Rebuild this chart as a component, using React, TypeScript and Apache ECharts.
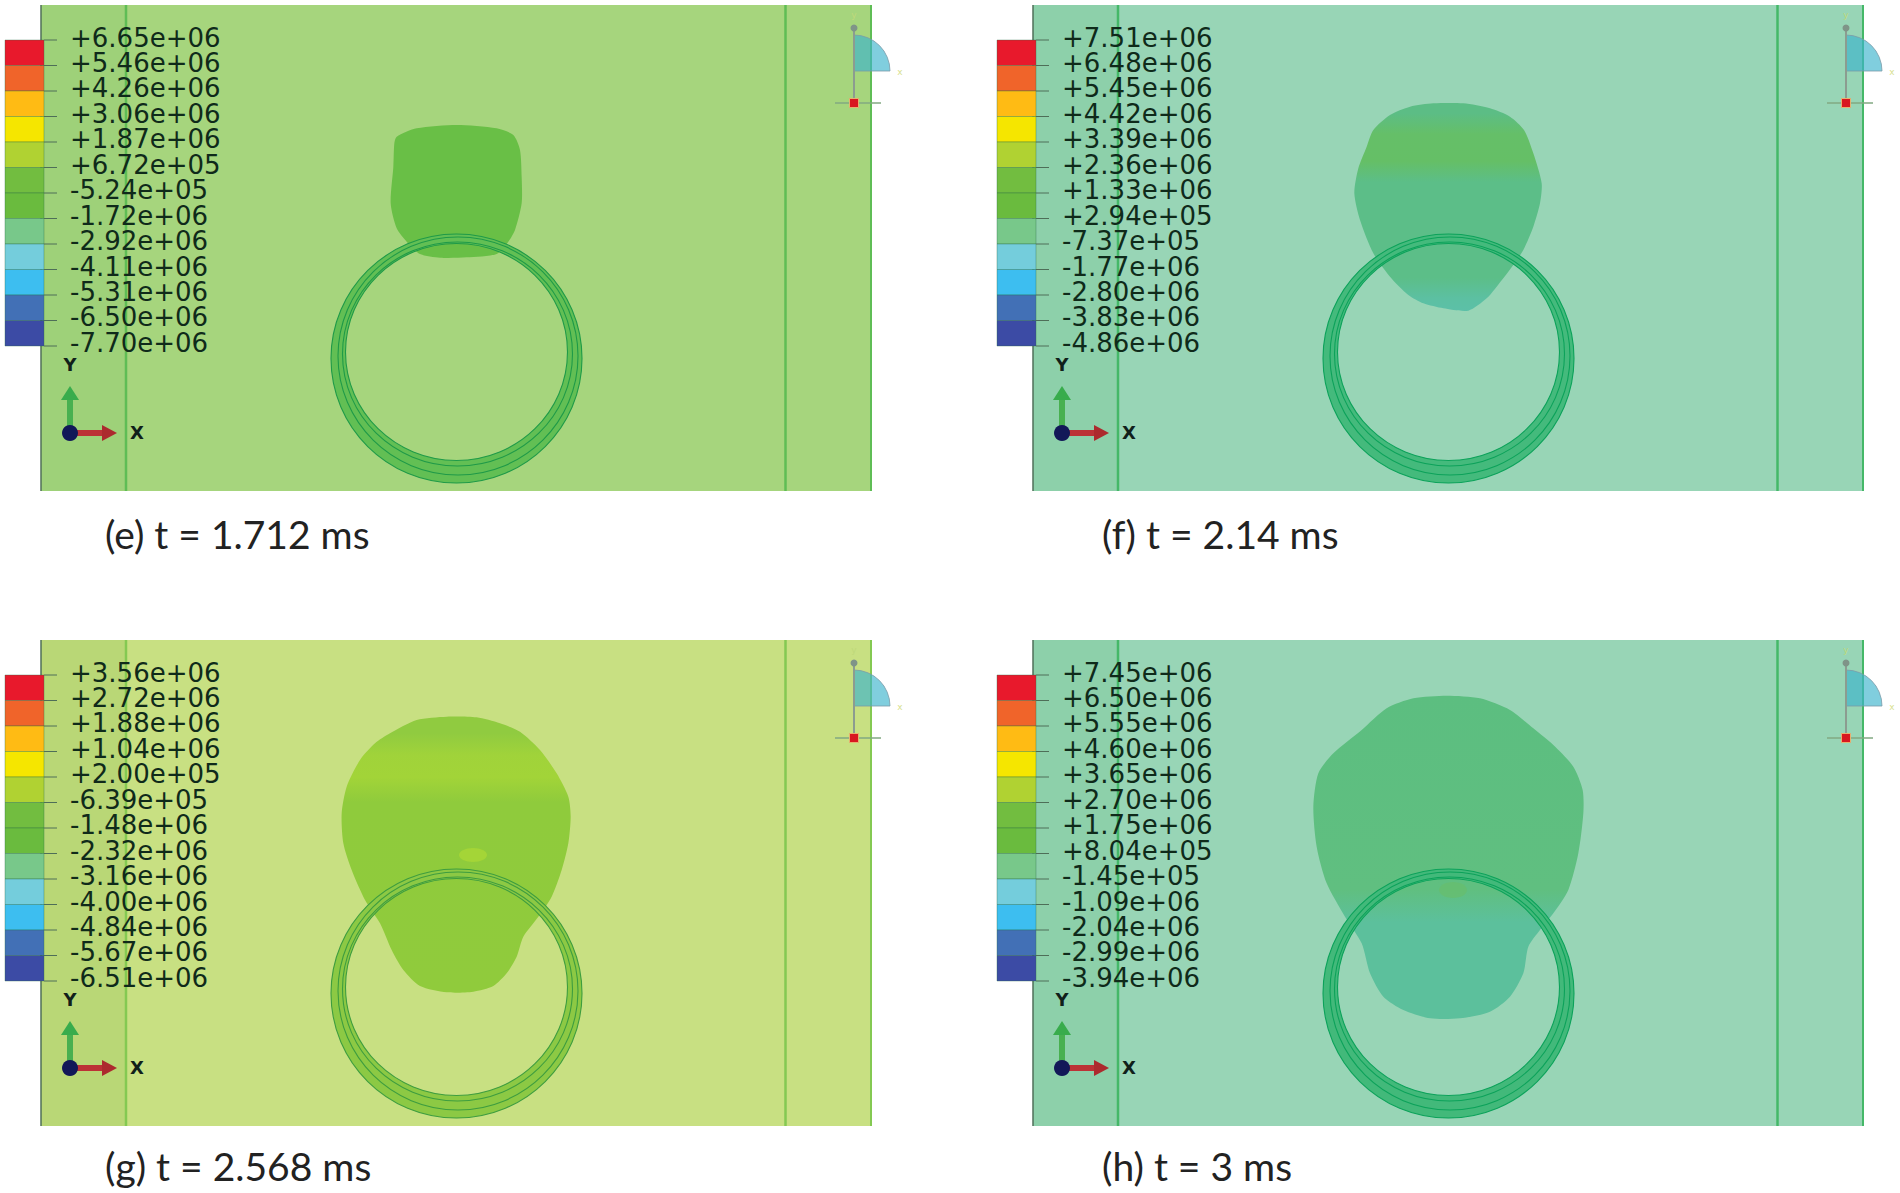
import React, { useEffect, useRef } from "react";
import * as echarts from "echarts";

// Contour legend
const legendColors = ["#e8192c", "#f0642a", "#ffbb14", "#f5e600", "#b0d232", "#72bd40", "#6abb3e", "#78c88a", "#74cddc", "#3dbef0", "#4270b6", "#3c4ba5"];
const labelsE = ["+6.65e+06", "+5.46e+06", "+4.26e+06", "+3.06e+06", "+1.87e+06", "+6.72e+05", "-5.24e+05", "-1.72e+06", "-2.92e+06", "-4.11e+06", "-5.31e+06", "-6.50e+06", "-7.70e+06"];
const labelsF = ["+7.51e+06", "+6.48e+06", "+5.45e+06", "+4.42e+06", "+3.39e+06", "+2.36e+06", "+1.33e+06", "+2.94e+05", "-7.37e+05", "-1.77e+06", "-2.80e+06", "-3.83e+06", "-4.86e+06"];
const labelsG = ["+3.56e+06", "+2.72e+06", "+1.88e+06", "+1.04e+06", "+2.00e+05", "-6.39e+05", "-1.48e+06", "-2.32e+06", "-3.16e+06", "-4.00e+06", "-4.84e+06", "-5.67e+06", "-6.51e+06"];
const labelsH = ["+7.45e+06", "+6.50e+06", "+5.55e+06", "+4.60e+06", "+3.65e+06", "+2.70e+06", "+1.75e+06", "+8.04e+05", "-1.45e+05", "-1.09e+06", "-2.04e+06", "-2.99e+06", "-3.94e+06"];

// Captions
const captions = ["(e) t = 1.712 ms", "(f) t = 2.14 ms", "(g) t = 2.568 ms", "(h) t = 3 ms"];

// Pressure-wave outlines, in panel units
const crop = (ox: number, oy: number, px: number, py: number, pts: number[][]) => pts.map(([x, y]) => [ox + x / 3 - px, oy + y / 3 - py]);
const outlineE = crop(300, 100, 41, 5, [[290, 110], [350, 85], [470, 75], [590, 85], [640, 105], [660, 150], [665, 230], [665, 310], [645, 390], [625, 425], [590, 462], [500, 472], [420, 473], [360, 462], [320, 425], [290, 385], [272, 310], [280, 200], [283, 130]]);
const outlineF = crop(1320, 80, 1033, 5, [[160, 150], [210, 105], [270, 80], [340, 70], [430, 70], [510, 85], [570, 110], [612, 150], [640, 220], [665, 310], [660, 370], [640, 440], [610, 510], [580, 555], [530, 620], [500, 655], [445, 692], [370, 685], [310, 670], [265, 645], [210, 590], [160, 520], [120, 420], [103, 340], [115, 265], [140, 200]]);
const outlineG = crop(320, 700, 41, 640, [[210, 100], [290, 60], [380, 50], [470, 52], [540, 70], [600, 95], [660, 150], [710, 220], [745, 290], [752, 350], [745, 430], [725, 510], [695, 590], [655, 650], [610, 710], [590, 770], [560, 820], [520, 858], [460, 875], [380, 877], [300, 858], [250, 810], [215, 750], [180, 670], [135, 600], [95, 510], [70, 430], [65, 340], [80, 260], [120, 180], [165, 130]]);
const outlineH = crop(1290, 680, 1033, 640, [[215, 150], [290, 85], [370, 55], [470, 47], [570, 55], [660, 90], [730, 145], [790, 195], [850, 260], [878, 330], [880, 400], [865, 520], [835, 630], [790, 700], [750, 750], [715, 800], [700, 880], [660, 950], [600, 995], [510, 1015], [420, 1015], [340, 990], [280, 950], [240, 880], [215, 790], [165, 710], [110, 610], [80, 500], [70, 380], [85, 280], [130, 220]]);

// Ring ellipses: cx, cy, rx, ry in panel units
const ringEllipses = [[415.5, 353.5, 125.5, 124.5], [417, 351, 120, 119], [416.5, 349, 115, 112], [415.5, 347, 111, 108.5]];

const panels = [
  { left: 41, top: 5, labels: labelsE, outline: outlineE, bg: "#a6d57d", strip: "#9ed179", line: "#5fbd55", band: "#62bf54", ringLine: "#1f9a48", capDx: 0, capDy: 0,
    stops: [[0, "#69bf46"], [1, "#69bf46"]], spot: null },
  { left: 1033, top: 5, labels: labelsF, outline: outlineF, bg: "#98d5b6", strip: "#8dd0aa", line: "#45b868", band: "#44ba7c", ringLine: "#0ca25a", capDx: 5, capDy: 0,
    stops: [[0, "#5cbd85"], [0.05, "#5cbd85"], [0.15, "#65bf68"], [0.28, "#65bf66"], [0.38, "#5cbe88"], [0.84, "#5cbe88"], [0.94, "#5cc0a2"], [1, "#5cc0a8"]], spot: null },
  { left: 41, top: 640, labels: labelsG, outline: outlineG, bg: "#c8e082", strip: "#b9d776", line: "#84c952", band: "#8cc944", ringLine: "#3e9d3f", capDx: 0, capDy: -3,
    stops: [[0, "#90cb40"], [0.06, "#90cb40"], [0.14, "#a0d33a"], [0.22, "#a2d438"], [0.31, "#8fcb3c"], [1, "#90cb3c"]], spot: [432, 215, 14, 7, "rgba(172,216,52,0.7)"] },
  { left: 1033, top: 640, labels: labelsH, outline: outlineH, bg: "#98d5b6", strip: "#8dd0aa", line: "#45b868", band: "#42b97a", ringLine: "#0ca25a", capDx: 5, capDy: -3,
    stops: [[0, "#5cbe80"], [0.6, "#60bf80"], [0.7, "#5cc09c"], [1, "#5cc09c"]], spot: [420, 250, 14, 8, "rgba(105,190,105,0.6)"] },
];

const PANEL_W = 831;
const PANEL_H = 486;
const LABEL_FONT = "26px 'DejaVu Sans'";

function ellipsePoints(e: number[], reverse: boolean) {
  const pts: number[][] = [];
  for (let i = 0; i <= 90; i++) {
    const a = ((reverse ? -i : i) / 90) * Math.PI * 2;
    pts.push([e[0] + e[2] * Math.cos(a), e[1] + e[3] * Math.sin(a)]);
  }
  return pts;
}

function buildOption() {
  const grid: any[] = [], xAxis: any[] = [], yAxis: any[] = [], series: any[] = [];
  panels.forEach((p, i) => {
    grid.push({ left: p.left, top: p.top, width: PANEL_W, height: PANEL_H });
    xAxis.push({ type: "value", gridIndex: i, min: 0, max: PANEL_W, show: false });
    yAxis.push({ type: "value", gridIndex: i, min: 0, max: PANEL_H, inverse: true, show: false });
    const base = { type: "custom", xAxisIndex: i, yAxisIndex: i, silent: true, clip: false, data: [[0, 0]] };

    series.push({
      ...base, z: 1, name: "panel " + i,
      renderItem: (_: any, api: any) => {
        const c = (x: number, y: number) => api.coord([x, y]);
        const [x0, y0] = c(0, 0);
        const [x1, y1] = c(PANEL_W, PANEL_H);
        const [sx] = c(85, 0);
        const [rx] = c(744.5, 0);
        const vline = (x: number, stroke: string, w: number) => ({ type: "line", shape: { x1: x, y1: y0, x2: x, y2: y1 }, style: { stroke, lineWidth: w } });
        return {
          type: "group",
          children: [
            { type: "rect", shape: { x: x0, y: y0, width: x1 - x0, height: y1 - y0 }, style: { fill: p.bg } },
            { type: "rect", shape: { x: x0, y: y0, width: sx - x0, height: y1 - y0 }, style: { fill: p.strip } },
            vline(sx, p.line, 2.5),
            vline(rx, p.line, 2.5),
            vline(x1 - 1, p.line, 2),
            vline(x0, "#4f6f58", 1.5),
          ],
        };
      },
    });

    series.push({
      ...base, z: 2, name: "wave " + i,
      renderItem: (_: any, api: any) => {
        const pts = p.outline.map(([x, y]) => api.coord([x, y]));
        const fill = new echarts.graphic.LinearGradient(0, 0, 0, 1, p.stops.map((s: any) => ({ offset: s[0], color: s[1] })));
        const children: any[] = [{ type: "polygon", shape: { points: pts, smooth: 0.25 }, style: { fill } }];
        if (p.spot) {
          const s: any = p.spot;
          const [cx, cy] = api.coord([s[0], s[1]]);
          children.push({ type: "ellipse", shape: { cx, cy, rx: s[2], ry: s[3] }, style: { fill: s[4] } });
        }
        return { type: "group", children };
      },
    });

    series.push({
      ...base, z: 3, name: "ring " + i,
      renderItem: (_: any, api: any) => {
        const outer = ellipsePoints(ringEllipses[0], false);
        const inner = ellipsePoints(ringEllipses[3], true);
        const band = outer.concat(inner).map(([x, y]) => api.coord([x, y]));
        const children: any[] = [{ type: "polygon", shape: { points: band }, style: { fill: p.band, stroke: "none" } }];
        ringEllipses.forEach((e) => {
          const [cx, cy] = api.coord([e[0], e[1]]);
          children.push({ type: "ellipse", shape: { cx, cy, rx: e[2], ry: e[3] }, style: { fill: "none", stroke: p.ringLine, lineWidth: 1.1 } });
        });
        return { type: "group", children };
      },
    });

    series.push({
      ...base, z: 4, name: "legend " + i, data: legendColors.map((_, k) => [k, 0]),
      renderItem: (params: any, api: any) => {
        const k = params.dataIndex;
        const [xa, ya] = api.coord([-36, 35 + k * 25.5]);
        const [xb, yb] = api.coord([3, 35 + (k + 1) * 25.5]);
        return { type: "rect", shape: { x: xa, y: ya, width: xb - xa, height: yb - ya }, style: { fill: legendColors[k], stroke: "rgba(40,110,70,0.45)", lineWidth: 0.8 } };
      },
    });

    series.push({
      ...base, z: 5, name: "labels " + i, data: p.labels.map((_, k) => [k, 0]),
      renderItem: (params: any, api: any) => {
        const k = params.dataIndex;
        const [tx0, ty] = api.coord([3, 35 + k * 25.5]);
        const [tx1] = api.coord([16, 0]);
        const [lx, ly] = api.coord([29, 32.5 + k * 25.45]);
        return {
          type: "group",
          children: [
            { type: "line", shape: { x1: tx0, y1: ty, x2: tx1, y2: ty }, style: { stroke: "#4e6e58", lineWidth: 1 } },
            { type: "text", style: { text: p.labels[k], x: lx, y: ly, font: LABEL_FONT, lineHeight: 23, fill: "#0f2a1a", textAlign: "left", textVerticalAlign: "middle" } },
          ],
        };
      },
    });

    series.push({
      ...base, z: 6, name: "triads " + i,
      renderItem: (_: any, api: any) => {
        const c = (x: number, y: number) => api.coord([x, y]);
        const [ox, oy] = c(29, 428);
        const [cx, cy] = c(813, 66);
        const [rsx, rsy] = c(813, 98);
        const [px, py] = c(813, 23);
        const [cap0x, cap0y] = c(64 + p.capDx, 529 + p.capDy);
        return {
          type: "group",
          children: [
            { type: "line", shape: { x1: ox, y1: oy, x2: ox, y2: oy - 36 }, style: { stroke: "#48b050", lineWidth: 6 } },
            { type: "polygon", shape: { points: [[ox - 9, oy - 33], [ox + 9, oy - 33], [ox, oy - 47]] }, style: { fill: "#38ac4c" } },
            { type: "line", shape: { x1: ox, y1: oy, x2: ox + 36, y2: oy }, style: { stroke: "#bc3236", lineWidth: 6 } },
            { type: "polygon", shape: { points: [[ox + 32, oy - 8], [ox + 32, oy + 8], [ox + 47, oy]] }, style: { fill: "#ac2a2e" } },
            { type: "circle", shape: { cx: ox, cy: oy, r: 8 }, style: { fill: "#121858" } },
            { type: "text", style: { text: "Y", x: ox, y: oy - 69, font: "bold 18px 'DejaVu Sans'", fill: "#10201a", textAlign: "center", textVerticalAlign: "middle" } },
            { type: "text", style: { text: "X", x: ox + 67, y: oy - 1, font: "bold 18px 'DejaVu Sans'", fill: "#10201a", textAlign: "center", textVerticalAlign: "middle" } },

            { type: "sector", shape: { cx, cy, r: 36, r0: 0, startAngle: -Math.PI / 2, endAngle: 0, clockwise: true }, style: { fill: "rgba(60,180,205,0.65)", stroke: "#7a9aa8", lineWidth: 0.8 } },
            { type: "line", shape: { x1: px, y1: py, x2: rsx, y2: rsy }, style: { stroke: "#8c9c90", lineWidth: 2 } },
            { type: "line", shape: { x1: rsx - 19, y1: rsy, x2: rsx + 27, y2: rsy }, style: { stroke: "#82a882", lineWidth: 1.5 } },
            { type: "circle", shape: { cx: px, cy: py, r: 3.5 }, style: { fill: "#7f9488" } },
            { type: "rect", shape: { x: rsx - 4.5, y: rsy - 4.5, width: 9, height: 9 }, style: { fill: "#d81820", stroke: "#e8b070", lineWidth: 1 } },
            { type: "text", style: { text: "x", x: cx + 46, y: cy + 1, font: "9px 'DejaVu Sans'", fill: "#d8df90", textAlign: "center", textVerticalAlign: "middle" } },
            { type: "text", style: { text: "y", x: px, y: py - 13, font: "9px 'DejaVu Sans'", fill: "#bfd97a", textAlign: "center", textVerticalAlign: "middle" } },

            { type: "text", style: { text: captions[i], x: cap0x, y: cap0y, font: "39px Lato", fill: "#222222", textAlign: "left", textVerticalAlign: "middle" } },
          ],
        };
      },
    });
  });
  return { animation: false, backgroundColor: "#ffffff", grid, xAxis, yAxis, series };
}

export default function App() {
  const ref = useRef<HTMLDivElement>(null);
  useEffect(() => {
    document.body.style.margin = "0";
    const chart = echarts.init(ref.current!, undefined, { renderer: "svg" });
    chart.setOption(buildOption() as any);
    return () => chart.dispose();
  }, []);
  return <div ref={ref} style={{ width: 1900, height: 1193 }} />;
}
